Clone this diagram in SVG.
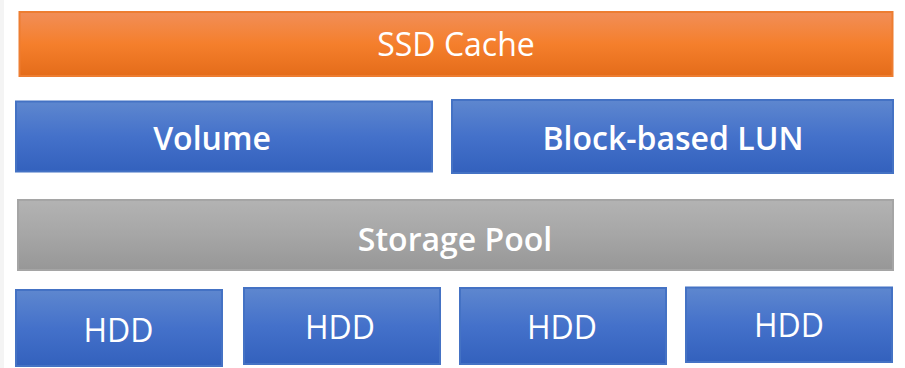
<svg xmlns="http://www.w3.org/2000/svg" width="905" height="368" viewBox="0 0 905 368">
  <defs>
    <linearGradient id="gBlue" x1="0" y1="0" x2="0" y2="1">
      <stop offset="0" stop-color="#5E87CF"/>
      <stop offset="0.5" stop-color="#4471CA"/>
      <stop offset="1" stop-color="#3361BD"/>
    </linearGradient>
    <linearGradient id="gOrange" x1="0" y1="0" x2="0" y2="1">
      <stop offset="0" stop-color="#F18E58"/>
      <stop offset="0.5" stop-color="#F57F2C"/>
      <stop offset="1" stop-color="#E46C1A"/>
    </linearGradient>
    <linearGradient id="gGrey" x1="0" y1="0" x2="0" y2="1">
      <stop offset="0" stop-color="#B3B3B3"/>
      <stop offset="0.5" stop-color="#A6A6A6"/>
      <stop offset="1" stop-color="#979797"/>
    </linearGradient>
  </defs>
  <style>
    .blue { fill: url(#gBlue); stroke: #4472C4; stroke-width: 2; }
    .orange { fill: url(#gOrange); stroke: #ED7D31; stroke-width: 2; }
    .grey { fill: url(#gGrey); stroke: #A5A5A5; stroke-width: 2; }
    text { font-family: "Open Sans", "Noto Sans", "Liberation Sans", sans-serif; font-size: 32px; fill: #FFFFFF; text-anchor: middle; }
    .semi { font-weight: 600; }
  </style>
  <rect x="0" y="0" width="905" height="368" fill="#FFFFFF"/>
  <rect x="0" y="0" width="4" height="368" fill="#F4F4F4"/>

  <g id="ssd-cache">
    <rect class="orange" x="19.5" y="12" width="873" height="64"/>
    <text x="456" y="56">SSD Cache</text>
  </g>
  <g id="volume">
    <rect class="blue" x="16" y="101.5" width="416" height="70"/>
    <text class="semi" x="212" y="150">Volume</text>
  </g>
  <g id="block-lun">
    <rect class="blue" x="452" y="100" width="441" height="73"/>
    <text class="semi" x="673" y="150">Block-based LUN</text>
  </g>
  <g id="storage-pool">
    <rect class="grey" x="18" y="200" width="875" height="70"/>
    <text class="semi" x="455" y="250.5">Storage Pool</text>
  </g>
  <g id="hdd-1">
    <rect class="blue" x="16" y="290" width="206" height="76"/>
    <text x="118.5" y="342">HDD</text>
  </g>
  <g id="hdd-2">
    <rect class="blue" x="244" y="288" width="196" height="76"/>
    <text x="340" y="339">HDD</text>
  </g>
  <g id="hdd-3">
    <rect class="blue" x="460" y="288" width="206" height="76"/>
    <text x="562" y="339">HDD</text>
  </g>
  <g id="hdd-4">
    <rect class="blue" x="686" y="287.5" width="206" height="74.5"/>
    <text x="789" y="337">HDD</text>
  </g>
  <g id="connectors"/>
</svg>
